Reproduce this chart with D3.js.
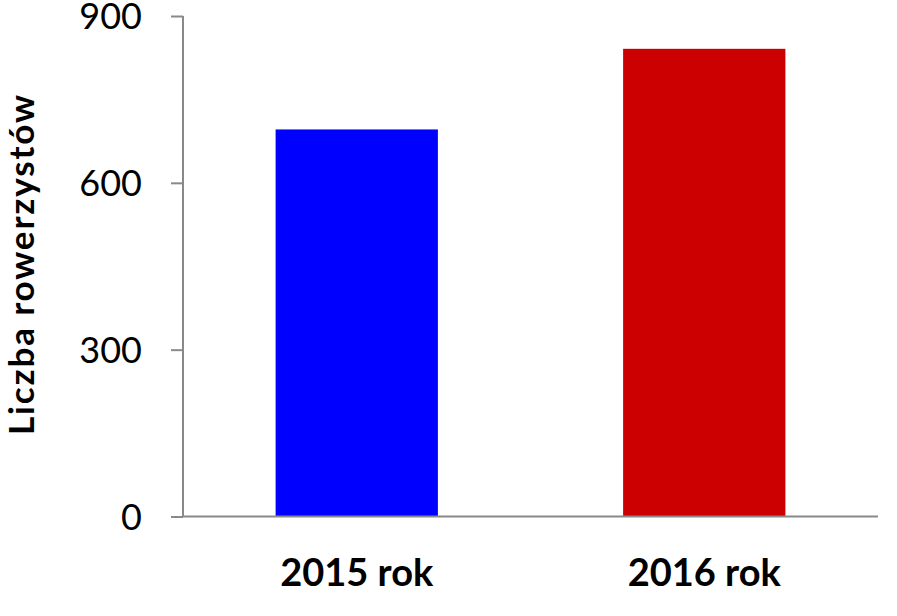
<!DOCTYPE html>
<html><head><meta charset="utf-8">
<script src="https://cdn.jsdelivr.net/npm/d3@7"></script>
<style>body{margin:0;background:#fff}svg{display:block}</style>
</head><body>
<svg id="chart" width="897" height="616"></svg>
<script>
const categories = ["2015 rok", "2016 rok"];
const values = [696, 841];
const colors = ["#0000FF", "#CC0000"];
const yTicks = [0, 300, 600, 900];
const yTitle = "Liczba rowerzystów";

const svg = d3.select("#chart");
const m = {left: 183, right: 878, top: 16, bottom: 516.5};
const x = d3.scaleBand().domain(categories).range([m.left, m.right]).paddingInner(0.533).paddingOuter(0.2665);
const y = d3.scaleLinear().domain([0, 900]).range([m.bottom, m.top]);

svg.selectAll("rect.bar").data(values).join("rect")
  .attr("class", "bar")
  .attr("x", (d, i) => x(categories[i]))
  .attr("width", x.bandwidth())
  .attr("y", d => y(d))
  .attr("height", d => y(0) - y(d))
  .attr("fill", (d, i) => colors[i]);

const yAxis = svg.append("g").attr("transform", `translate(${m.left},0)`)
  .call(d3.axisLeft(y).tickValues(yTicks).tickSize(12).tickPadding(29).tickFormat(d3.format("d")));
yAxis.select(".domain").attr("stroke", "#898989").attr("stroke-width", 2).attr("d", `M0,${m.top}V${m.bottom}`);
yAxis.selectAll(".tick line").attr("stroke", "#898989").attr("stroke-width", 2);
yAxis.selectAll(".tick text").attr("font-family", "Lato, sans-serif").attr("font-size", 36).attr("fill", "#000").attr("dy", "0.35em");

svg.append("line").attr("x1", m.left).attr("x2", m.right).attr("y1", y(0)).attr("y2", y(0))
  .attr("stroke", "#898989").attr("stroke-width", 2);

svg.selectAll("text.xl").data(categories).join("text")
  .attr("class", "xl")
  .attr("x", d => x(d) + x.bandwidth() / 2)
  .attr("y", 586)
  .attr("text-anchor", "middle")
  .attr("font-family", "Lato, sans-serif").attr("font-weight", "bold").attr("font-size", 38)
  .text(d => d);

svg.append("text")
  .attr("transform", "translate(34,265) rotate(-90)")
  .attr("text-anchor", "middle")
  .attr("font-family", "Lato, sans-serif").attr("font-weight", "bold").attr("font-size", 35)
  .attr("textLength", 340).attr("lengthAdjust", "spacing")
  .text(yTitle);
</script>
</body></html>
